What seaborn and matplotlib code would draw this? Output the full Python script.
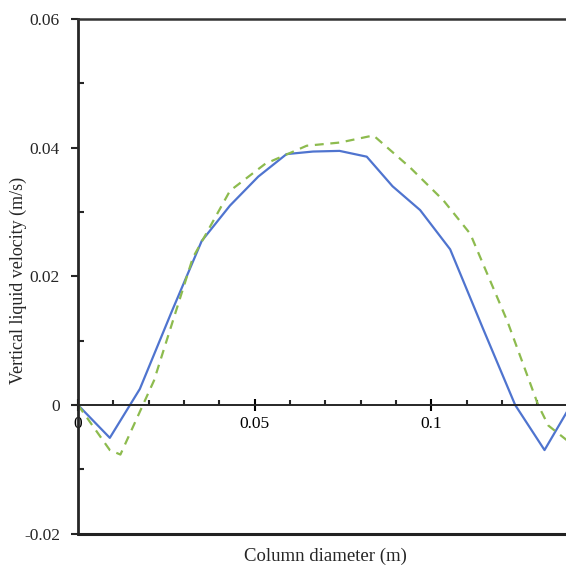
import numpy as np
import pandas as pd
import matplotlib
matplotlib.use("Agg")
import matplotlib.pyplot as plt
from matplotlib.ticker import MultipleLocator, FixedLocator
import seaborn as sns

# === Data ===
blue_x = [0, 0.009, 0.0175, 0.0265, 0.035, 0.043, 0.051, 0.059, 0.0665,
          0.074, 0.0817, 0.089, 0.0968, 0.1053, 0.1145, 0.1237, 0.132, 0.14]
blue_y = [0, -0.0051, 0.0025, 0.0145, 0.0255, 0.031, 0.0355, 0.039, 0.0394,
          0.0395, 0.0386, 0.034, 0.0303, 0.0242, 0.012, 0.0, -0.007, 0.0005]

green_x = [0, 0.009, 0.012, 0.0215, 0.0325, 0.043, 0.053, 0.0647, 0.0741,
           0.0836, 0.094, 0.1034, 0.111, 0.1215, 0.1302, 0.1331, 0.14]
green_y = [0, -0.007, -0.0077, 0.0038, 0.0229, 0.0333, 0.0375, 0.0403, 0.0408,
           0.0419, 0.0369, 0.0318, 0.0266, 0.013, 0.0, -0.0032, -0.0062]

x_ticks = [0, 0.05, 0.1]
x_tick_labels = ["0", "0.05", "0.1"]
y_ticks = [-0.02, 0, 0.02, 0.04, 0.06]
y_tick_labels = ["-0.02", "0", "0.02", "0.04", "0.06"]

# === Style ===
sns.set_style("ticks")
plt.rcParams["font.family"] = ["Liberation Serif", "DejaVu Serif"]

fig = plt.figure(figsize=(5.66, 5.68), dpi=100)
ax = fig.add_axes([78 / 566, 1 - 533.7 / 568, 0.8742, (533.7 - 19) / 568])

df_blue = pd.DataFrame({"x": blue_x, "y": blue_y})
df_green = pd.DataFrame({"x": green_x, "y": green_y})
sns.lineplot(data=df_blue, x="x", y="y", ax=ax, color="#4f74cf", lw=1.6,
             sort=False, estimator=None)
sns.lineplot(data=df_green, x="x", y="y", ax=ax, color="#8dbb4e", lw=1.6,
             sort=False, estimator=None, linestyle=(0, (4, 3)))

ax.set_xlim(0, 0.14)
ax.set_ylim(-0.02, 0.06)

# x axis runs through zero, frame lines on top, left and bottom
ax.spines["bottom"].set_position(("data", 0))
ax.spines["bottom"].set_linewidth(1.4)
ax.spines["left"].set_linewidth(2.0)
ax.spines["top"].set_linewidth(1.8)
ax.spines["top"].set_color("#333333")
ax.spines["right"].set_visible(False)
ax.axhline(-0.02, color="#222222", lw=2.2, clip_on=False, zorder=5)

ax.xaxis.set_major_locator(FixedLocator(x_ticks))
ax.set_xticklabels(x_tick_labels)
ax.xaxis.set_minor_locator(MultipleLocator(0.01))
ax.yaxis.set_major_locator(FixedLocator(y_ticks))
ax.set_yticklabels(y_tick_labels)
ax.yaxis.set_minor_locator(MultipleLocator(0.01))

ax.tick_params(axis="x", which="major", direction="inout", length=8, width=1.5,
               pad=4, labelsize=12.5, colors="black")
ax.tick_params(axis="x", which="minor", direction="in", length=3.5, width=1.5)
ax.tick_params(axis="y", which="major", direction="out", length=5, width=1.5,
               pad=8, labelsize=12.5)
ax.tick_params(axis="y", which="minor", direction="in", length=4, width=1.5)

ax.set_xlabel("")
ax.set_ylabel("")
fig.text(325 / 566, 1 - 556 / 568, "Column diameter (m)", ha="center",
         va="center", fontsize=13.5)
fig.text(18 / 566, 1 - 280 / 568, "Vertical liquid velocity (m/s)", ha="center",
         va="center", rotation=90, fontsize=13)

fig.savefig("out.png", dpi=100)
